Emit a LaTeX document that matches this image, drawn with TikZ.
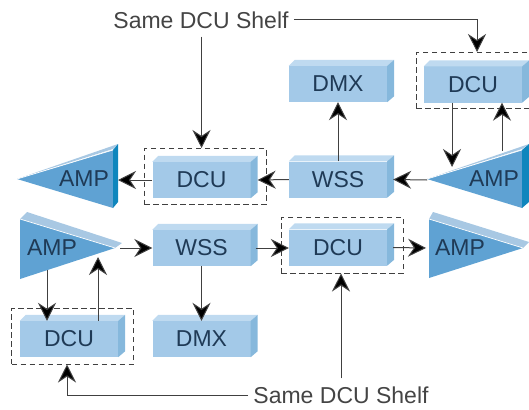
\documentclass[tikz,border=0pt]{standalone}
\usepackage{fontspec}
\setmainfont{Liberation Sans}
\usetikzlibrary{arrows.meta}
\usetikzlibrary{positioning}
\definecolor{boxfront}{HTML}{A3C9E8}
\definecolor{boxtop}{HTML}{BFDAF0}
\definecolor{boxside}{HTML}{86B8DC}
\definecolor{ampface}{HTML}{5FA2D3}
\definecolor{ampstrip}{HTML}{0F86BD}
\definecolor{ampsliver}{HTML}{A8C8E3}
\definecolor{labelblue}{HTML}{1F3A56}
\definecolor{labelgrey}{HTML}{444444}
\tikzset{
  x=1pt, y=-1pt,
  unit/.style={fill=boxfront, inner sep=0pt, minimum width=98pt, minimum height=36pt,
    text=labelblue, font=\fontsize{23}{25}\selectfont},
  shelf/.style={draw=black!75, line width=1pt, dash pattern=on 5.5pt off 3.5pt,
    inner sep=0pt, minimum width=122pt, minimum height=56pt},
  amptext/.style={inner sep=0pt, text=labelblue, font=\fontsize{23}{25}\selectfont},
  shelftext/.style={inner xsep=5pt, inner ysep=8pt, text=labelgrey, font=\fontsize{23}{25}\selectfont},
  link/.style={draw=black!75, line width=1pt, -{Stealth[length=18pt,width=18pt,inset=6pt,fill=black]}}
}
\begin{document}
\begin{tikzpicture}
  \useasboundingbox (0,0) rectangle (529,409);
  \clip (0,0) rectangle (529,409);

  % boxes
  \foreach \nm/\tx/\xx/\yy in {dmxU/DMX/338/84, dcuU/DCU/473/84.5, wssU/WSS/338/179.5,
    dcuM/DCU/201.5/180, wssL/WSS/201.5/248, dcuR/DCU/338/247.5, dcuL/DCU/69/339, dmxL/DMX/201.5/339}
  {
    \node[unit] (\nm) at (\xx,\yy) {\tx};
    \fill[boxtop] (\nm.north west) -- ++(6,-6) -- ([shift={(7,-6)}]\nm.north east) -- (\nm.north east) -- cycle;
    \fill[boxside] (\nm.north east) -- ++(7,-6) -- ([shift={(7,-6)}]\nm.south east) -- (\nm.south east) -- cycle;
  }

  % dashed shelves
  \node[shelf] (shelfU) at (477,80.5) {};
  \node[shelf] (shelfM) at (205,176.5) {};
  \node[shelf] (shelfR) at (342,245) {};
  \node[shelf] (shelfL) at (72.5,336) {};

  % amplifiers
  \fill[ampsliver] (17,179) -- (118,144) -- (113,149) -- cycle;
  \fill[ampface] (17,179) -- (113,150) -- (113,208) -- cycle;
  \fill[ampstrip] (113,150) -- (118,144) -- (118,202) -- (113,208) -- cycle;
  \draw[white, line width=.7pt] (17,179) -- (113,150);
  \node[amptext] (ampUL) at (84,179) {AMP};

  \fill[ampsliver] (427,179) -- (529,144) -- (522,149) -- cycle;
  \fill[ampface] (427,179) -- (522,150) -- (522,208) -- cycle;
  \fill[ampstrip] (522,150) -- (529,144) -- (529,202) -- (522,208) -- cycle;
  \draw[white, line width=.7pt] (427,179) -- (522,150);
  \node[amptext] (ampUR) at (494,179) {AMP};

  \fill[ampsliver] (20,219) -- (27,212) -- (122,243) -- (115,248) -- cycle;
  \fill[ampface] (20,219) -- (115,248) -- (20,279) -- cycle;
  \draw[white, line width=.7pt] (20,219) -- (115,248);
  \node[amptext] (ampLL) at (52,248) {AMP};

  \fill[ampsliver] (429,219) -- (433,212) -- (529,242) -- (523,248) -- cycle;
  \fill[ampface] (429,219) -- (523,248) -- (429,278) -- cycle;
  \draw[white, line width=.7pt] (429,219) -- (523,248);
  \node[amptext] (ampLR) at (460,248) {AMP};

  % free ends on the amplifiers
  \coordinate (ampULtip) at (118,180);
  \coordinate (ampURtip) at (427,180);
  \coordinate (ampURin) at (452,167);
  \coordinate (ampURout) at (502,151);
  \coordinate (ampLLtip) at (120,248);
  \coordinate (ampLLout) at (47,270);
  \coordinate (ampLLin) at (98,257);
  \coordinate (ampLRtip) at (426,248);

  % labels
  \node[shelftext] (sameT) at (201,20) {Same DCU Shelf};
  \node[shelftext] (sameB) at (341,395) {Same DCU Shelf};

  % connectors
  \draw[link] (sameT.east) -| (shelfU.north);
  \draw[link] (sameT.south -| dcuM.north) -- (shelfM.north -| dcuM.north);
  \draw[link] (sameB.north) -- (sameB.north |- shelfR.south);
  \draw[link] (sameB.west) -| ([xshift=-2]dcuL.center |- shelfL.south);

  \draw[link] (ampURin |- dcuU.south) -- (ampURin);
  \draw[link] (ampURout) -- (ampURout |- dcuU.south);
  \draw[link] (ampURtip) -- ([xshift=6]wssU.east);
  \draw[link] (wssU.west) -- ([xshift=7]dcuM.east);
  \draw[link] (dcuM.west) -- (ampULtip);
  \draw[link] (wssU.north) -- (dmxU.south);

  \draw[link] (ampLLtip) -- (wssL.west);
  \draw[link] ([xshift=5]wssL.east) -- (dcuR.west |- wssL.east);
  \draw[link] ([xshift=6]dcuR.east) -- (ampLRtip);
  \draw[link] (ampLLout) -- (ampLLout |- dcuL.north);
  \draw[link] (ampLLin |- dcuL.north) -- (ampLLin);
  \draw[link] (wssL.south) -- (dmxL.north);
\end{tikzpicture}
\end{document}
